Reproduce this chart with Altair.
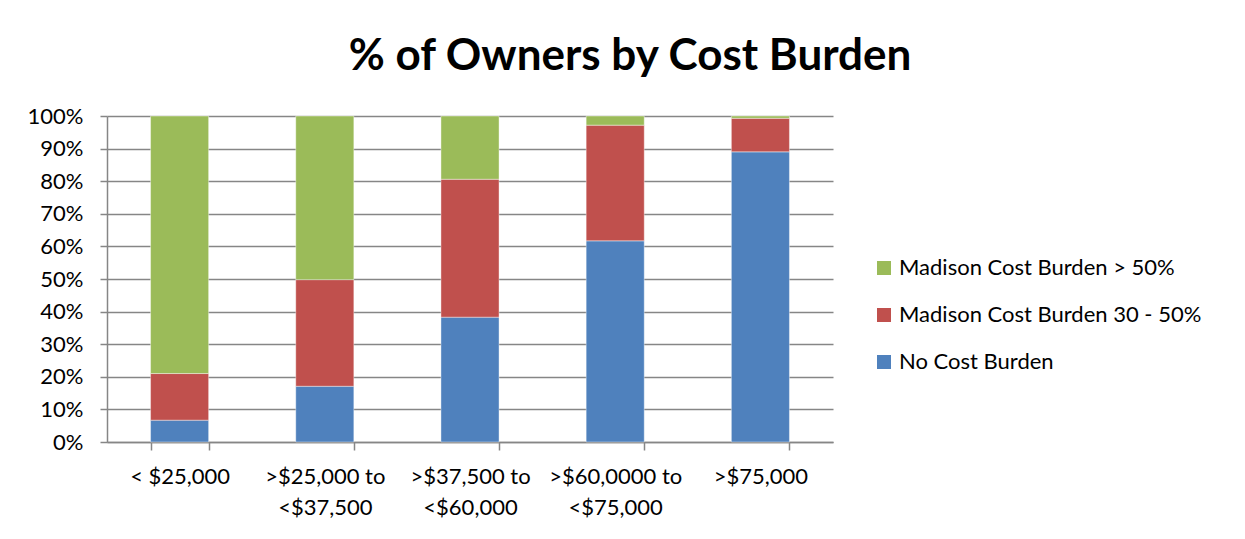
import altair as alt
import pandas as pd

categories = ["< $25,000", ">$25,000 to|<$37,500", ">$37,500 to|<$60,000",
              ">$60,0000 to|<$75,000", ">$75,000"]
no_burden = [0.067, 0.171, 0.383, 0.617, 0.890]
burden_30_50 = [0.143, 0.327, 0.423, 0.355, 0.103]
burden_50 = [round(1 - a - b, 3) for a, b in zip(no_burden, burden_30_50)]

series = ["Madison Cost Burden > 50%", "Madison Cost Burden 30 - 50%", "No Cost Burden"]
colors = ["#9BBB59", "#C0504D", "#4F81BD"]

rows = []
for i, c in enumerate(categories):
    rows.append({"cat": c, "series": series[2], "value": no_burden[i], "rank": 0})
    rows.append({"cat": c, "series": series[1], "value": burden_30_50[i], "rank": 1})
    rows.append({"cat": c, "series": series[0], "value": burden_50[i], "rank": 2})
df = pd.DataFrame(rows)

FONT = "Lato"

chart = alt.Chart(df).mark_bar(stroke="#ffffff", strokeOpacity=0.5, strokeWidth=0.8).encode(
    x=alt.X("cat:N", sort=categories, title=None,
            scale=alt.Scale(paddingInner=0.6, paddingOuter=0.3),
            axis=alt.Axis(labelExpr="split(datum.label, '|')", labelAngle=0,
                          tickBand="extent", tickSize=8, labelPadding=16,
                          labelLineHeight=31, labelFontSize=22, labelColor="#000000",
                          domainColor="#868686", tickColor="#868686",
                          domainWidth=1.5, tickWidth=1.5, labelFont=FONT)),
    y=alt.Y("value:Q", stack="zero", title=None,
            scale=alt.Scale(domain=[0, 1]),
            axis=alt.Axis(format=".0%", values=[i / 10 for i in range(11)],
                          tickSize=7, labelPadding=17, labelFontSize=22,
                          labelColor="#000000", labelFont=FONT,
                          grid=True, gridColor="#868686", gridWidth=1.5,
                          domainColor="#868686", tickColor="#868686",
                          domainWidth=1.5, tickWidth=1.5)),
    color=alt.Color("series:N", scale=alt.Scale(domain=series, range=colors),
                    legend=alt.Legend(title=None, orient="none", legendX=766, legendY=141,
                                      symbolType="square", symbolSize=196,
                                      symbolStrokeWidth=0, labelFontSize=22,
                                      labelFont=FONT, labelColor="#000000",
                                      labelLimit=400,
                                      rowPadding=25, labelOffset=4)),
    order=alt.Order("rank:Q", sort="ascending"),
).properties(
    width=726, height=326,
    title=alt.TitleParams("% of Owners by Cost Burden", fontSize=44, font=FONT,
                          fontWeight="bold", color="#000000", offset=26, dx=160),
    autosize=alt.AutoSizeParams(type="none"),
    padding={"left": 99, "top": 108, "right": 404, "bottom": 89},
).configure_view(stroke=None)

chart.save("out.html", embed_options={"renderer": "svg", "actions": False})
